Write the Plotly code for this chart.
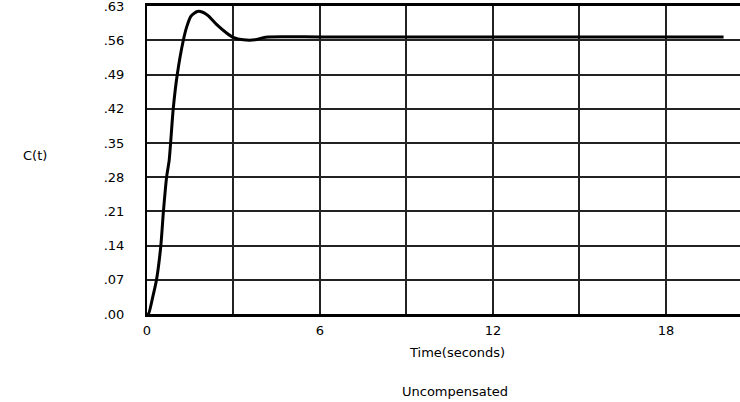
import plotly.graph_objects as go

# Step response of uncompensated system
time_s = [0.0, 0.05, 0.20, 0.33, 0.48, 0.57, 0.68, 0.77, 0.91, 1.05, 1.26, 1.38, 1.52,
          1.65, 1.75, 1.85, 1.98, 2.13, 2.42, 2.76, 2.99, 3.34, 3.75, 4.0, 4.2, 6.0, 10.0, 15.0, 20.0]
c_t = [0.0, 0.0, 0.035, 0.07, 0.14, 0.21, 0.28, 0.315, 0.42, 0.49, 0.56, 0.588, 0.609,
       0.616, 0.619, 0.619, 0.616, 0.610, 0.592, 0.575, 0.566, 0.561, 0.561, 0.565, 0.567, 0.567, 0.567, 0.567, 0.567]

x_grid = [0, 3, 6, 9, 12, 15, 18, 21]
x_labels = ["0", "", "6", "", "12", "", "18", ""]
y_vals = [0.0, 0.07, 0.14, 0.21, 0.28, 0.35, 0.42, 0.49, 0.56, 0.63]
y_labels = [".00", ".07", ".14", ".21", ".28", ".35", ".42", ".49", ".56", ".63"]

FONT = "DejaVu Sans"
FS = 13

L, T, B = 147, 6, 88
W, H = 740, 402

fig = go.Figure()
fig.add_trace(go.Scatter(x=time_s, y=c_t, mode="lines",
                         line=dict(color="black", width=3, shape="spline", smoothing=0.6),
                         showlegend=False, hoverinfo="skip"))

fig.update_layout(
    width=W, height=H,
    margin=dict(l=L, r=0, t=T, b=B),
    paper_bgcolor="white", plot_bgcolor="white",
    font=dict(family=FONT, size=FS, color="black"),
    xaxis=dict(range=[0, 20.57], tickvals=x_grid, ticktext=x_labels,
               showgrid=True, gridcolor="#222222", gridwidth=1.5,
               showline=True, linecolor="black", linewidth=2.5, mirror=True,
               zeroline=False, ticks="", ticklabelstandoff=3,
               tickfont=dict(family=FONT, size=FS)),
    yaxis=dict(range=[0, 0.6302], tickvals=y_vals, ticktext=y_labels,
               showgrid=True, gridcolor="#222222", gridwidth=1.5,
               showline=True, linecolor="black", linewidth=2, mirror=False,
               zeroline=False, ticks="", ticklabelstandoff=18,
               ticklabeloverflow="allow", automargin=False,
               tickfont=dict(family=FONT, size=FS)),
)

# annotations positioned in pixels, converted to paper coordinates
pw = W - L
ph = H - T - B


def px_to_paper(px, py):
    return (px - L) / pw, (H - py - B) / ph


for text, px, py in [("Time(seconds)", 457, 352), ("Uncompensated", 455, 391), ("C(t)", 35, 155)]:
    ax, ay = px_to_paper(px, py)
    fig.add_annotation(text=text, x=ax, y=ay, xref="paper", yref="paper",
                       xanchor="center", yanchor="middle",
                       showarrow=False, font=dict(family=FONT, size=FS))

fig.write_html("out.html", post_script="document.body.style.margin='0';",
               config={"displayModeBar": False})
